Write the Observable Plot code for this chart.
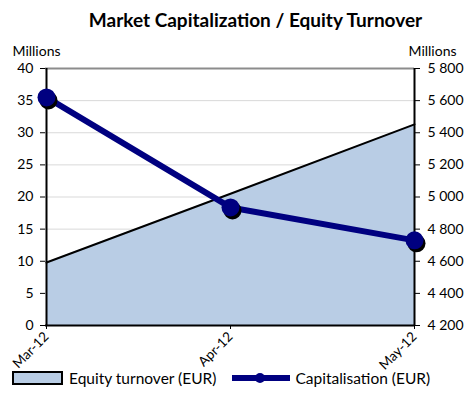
<!DOCTYPE html>
<html><head><meta charset="utf-8">
<script src="https://cdn.jsdelivr.net/npm/d3@7"></script>
<script src="https://cdn.jsdelivr.net/npm/@observablehq/plot@0.6"></script>
<style>
body{margin:0;background:#fff;font-family:Lato,"Open Sans",sans-serif;color:#000;width:467px;}
#title{height:40px;line-height:40px;font-weight:bold;font-size:19px;text-align:center;padding-left:44px;box-sizing:border-box;}
#chart svg{display:block;}
#legend{display:flex;align-items:center;height:24px;font-size:15.5px;padding-left:12px;margin-top:-9px;position:relative;}
</style></head><body>
<div id="title">Market Capitalization / Equity Turnover</div>
<div id="chart"></div>
<div id="legend">
  <svg width="52" height="16" style="margin-right:5px"><rect x="1" y="2" width="49" height="12" fill="#b9cde5" stroke="#000" stroke-width="2"/></svg>
  <span>Equity turnover (EUR)</span>
  <svg width="60" height="16" style="margin-left:15px;margin-right:4px"><line x1="1" y1="8" x2="59" y2="8" stroke="#000080" stroke-width="6"/><circle cx="29" cy="8" r="5" fill="#000080"/></svg>
  <span>Capitalisation (EUR)</span>
</div>
<script>
const months = ["Mar-12", "Apr-12", "May-12"];
const turnover = [9.8, 20.5, 31.3];
const capitalisation = [5620, 4935, 4730];
const leftTicks = [0, 5, 10, 15, 20, 25, 30, 35, 40];
const rightTicks = [4200, 4400, 4600, 4800, 5000, 5200, 5400, 5600, 5800];

const rMin = 4200, rMax = 5800, lMax = 40;
const toLeft = v => (v - rMin) / (rMax - rMin) * lMax;
const fmt = d3.formatLocale({thousands: " ", grouping: [3], decimal: ","}).format(",");

const areaData = months.map((m, i) => ({month: m, value: turnover[i]}));
const capData = months.map((m, i) => ({month: m, value: toLeft(capitalisation[i])}));

const chart = Plot.plot({
  width: 467,
  height: 335,
  marginTop: 28,
  marginLeft: 45,
  marginRight: 53,
  marginBottom: 50,
  style: {fontFamily: 'Lato, "Open Sans", sans-serif', fontSize: "14px", color: "#000", background: "transparent"},
  x: {type: "point", domain: months, padding: 0},
  y: {domain: [0, lMax]},
  marks: [
    Plot.gridY(leftTicks, {stroke: "#d9d9d9", strokeOpacity: 1}),
    Plot.areaY(areaData, {x: "month", y: "value", fill: "#b9cde5"}),
    Plot.lineY(areaData, {x: "month", y: "value", stroke: "#000", strokeWidth: 2}),
    Plot.ruleY([lMax], {stroke: "#8c8c8c", strokeWidth: 2}),
    Plot.ruleY([0], {stroke: "#000", strokeWidth: 2}),
    Plot.axisY(leftTicks, {anchor: "left", label: null, tickSize: 5, tickPadding: 7, stroke: "#000", fontSize: 14}),
    Plot.axisY(rightTicks.map(toLeft), {anchor: "right", label: null, tickSize: 5, tickPadding: 8, fontSize: 14, tickFormat: v => fmt(Math.round(rMin + v / lMax * (rMax - rMin))), stroke: "#000"}),
    Plot.ruleX([months[0], months[months.length - 1]], {stroke: "#000", strokeWidth: 2}),
    Plot.axisX({label: null, tickRotate: -45, tickSize: 4, tickPadding: 5, fontSize: 13.5, stroke: "#000"}),
    Plot.line(capData, {x: "month", y: "value", stroke: "#000080", strokeWidth: 6}),
    Plot.dot(capData, {x: "month", y: "value", r: 9, fill: "#000", dx: 2, dy: 3}),
    Plot.dot(capData, {x: "month", y: "value", r: 9, fill: "#000080"}),
    Plot.text(["Millions"], {frameAnchor: "top-left", dx: -9, dy: -22, textAnchor: "middle", fontSize: 14}),
    Plot.text(["Millions"], {frameAnchor: "top-right", dx: 18, dy: -22, textAnchor: "middle", fontSize: 14})
  ]
});
document.getElementById("chart").append(chart);
</script>
</body></html>
